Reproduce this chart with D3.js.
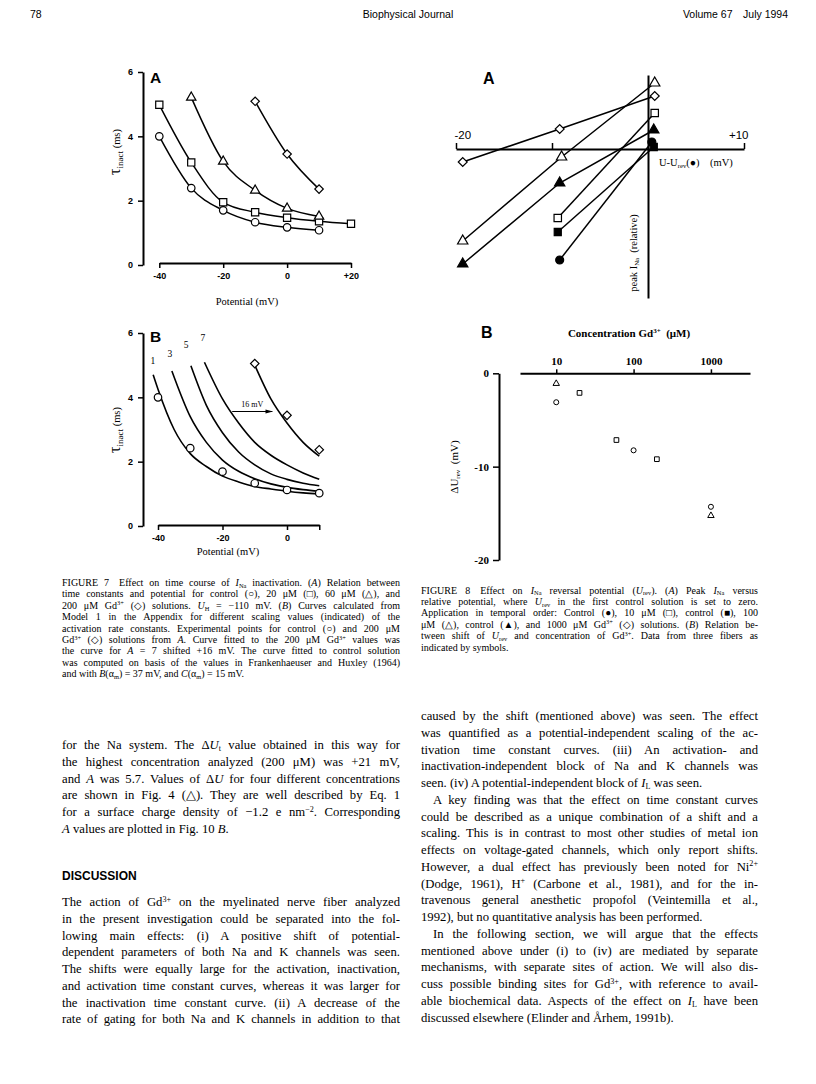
<!DOCTYPE html>
<html>
<head>
<meta charset="utf-8">
<script src="https://cdn.jsdelivr.net/npm/d3@7"></script>
<style>
  body { margin: 0; background: #fff; }
  svg { display: block; }
</style>
</head>
<body>
<script>
var serif = "'Liberation Serif', 'Times New Roman', serif";
var sans = "'Liberation Sans', Arial, sans-serif";

// ---- Figure 7A: tau inact (ms) vs potential (mV) ----
var fig7aControl = [[-40, 4.0], [-30, 2.39], [-20, 1.70], [-10, 1.33], [0, 1.17], [10, 1.08]];
var fig7aGd20 = [[-40, 4.98], [-30, 3.19], [-20, 1.95], [-10, 1.64], [0, 1.47], [10, 1.36], [20, 1.28]];
var fig7aGd60 = [[-30, 5.21], [-20, 3.22], [-10, 2.32], [0, 1.76], [10, 1.51]];
var fig7aGd200 = [[-10, 5.09], [0, 3.45], [10, 2.36]];
var fig7aXTicks = [-40, -20, 0, 20];
var fig7YTicks = [0, 2, 4, 6];

// ---- Figure 7B: model curves for scaling values ----
var fig7bScaling = ['1', '3', '5', '7'];
var fig7bCurves = [
  [[-41.5, 4.7], [-40, 4.25], [-35, 3.0], [-30, 2.25], [-25, 1.85], [-20, 1.55], [-15, 1.37], [-10, 1.23], [-5, 1.15], [0, 1.08], [5, 1.03], [10, 1.0]],
  [[-35.7, 4.82], [-30, 3.4], [-25, 2.6], [-20, 2.05], [-15, 1.7], [-10, 1.47], [-5, 1.31], [0, 1.2], [5, 1.13], [10, 1.08]],
  [[-29.8, 4.98], [-25, 3.75], [-20, 2.9], [-15, 2.3], [-10, 1.9], [-5, 1.62], [0, 1.45], [5, 1.33], [10, 1.25]],
  [[-25.6, 5.09], [-20, 3.95], [-15, 3.2], [-10, 2.6], [-5, 2.2], [0, 1.9], [5, 1.65], [10, 1.45]]
];
var fig7bLabelAt = [[-41.6, 5.14], [-36.3, 5.37], [-31.3, 5.65], [-26.1, 5.85]];
var fig7bFitGd200 = [[-10, 5.0], [-5, 3.95], [0, 3.2], [5, 2.6], [10, 2.17]];
var fig7bControl = [[-40, 4.0], [-30, 2.42], [-20, 1.69], [-10, 1.33], [0, 1.12], [10, 1.02]];
var fig7bGd200 = [[-10, 5.05], [0, 3.44], [10, 2.37]];
var fig7bShift = {from: -17, to: -4.5, level: 3.56, label: '16 mV'};
var fig7bXTicks = [-40, -20, 0, 10];

// ---- Figure 8A: peak INa (relative) vs U - Urev (mV) ----
var fig8aControl1 = [[-9.2, -1.11], [0.4, 0.07]];
var fig8aGd10 = [[-9.4, -0.69], [0.7, 0.36]];
var fig8aControl2 = [[-9.4, -0.83], [0.6, 0.02]];
var fig8aGd100 = [[-19.3, -0.92], [-9.0, -0.08], [0.7, 0.66]];
var fig8aControl3 = [[-19.3, -1.15], [-9.2, -0.34], [0.6, 0.19]];
var fig8aGd1000 = [[-19.3, -0.13], [-9.2, 0.2], [0.7, 0.53]];
var fig8aXTicks = [-20, -10, 10];

// ---- Figure 8B: shift of Urev vs Gd concentration ----
var fig8bFiberCircle = [[10, -3.1], [100, -8.25], [1000, -14.3]];
var fig8bFiberSquare = [[20, -2.1], [60, -7.15], [200, -9.2]];
var fig8bFiberTriangle = [[10, -1.1], [1000, -15.25]];
var fig8bXTicks = [10, 100, 1000];
var fig8bYTicks = [0, -10, -20];

// ---- page text ----
var caption7 = [
  'FIGURE 7\u2003Effect on time course of *I*_{Na} inactivation. (*A*) Relation between',
  'time constants and potential for control (\u25cb), 20 \u03bcM (\u25a1), 60 \u03bcM (\u25b3), and',
  '200 \u03bcM Gd^{3+} (\u25c7) solutions. *U*_{H} = \u2212110 mV. (*B*) Curves calculated from',
  'Model 1 in the Appendix for different scaling values (indicated) of the',
  'activation rate constants. Experimental points for control (\u25cb) and 200 \u03bcM',
  'Gd^{3+} (\u25c7) solutions from *A*. Curve fitted to the 200 \u03bcM Gd^{3+} values was',
  'the curve for *A* = 7 shifted +16 mV. The curve fitted to control solution',
  'was computed on basis of the values in Frankenhaeuser and Huxley (1964)',
  'and with *B*(\u03b1_{m}) = 37 mV, and *C*(\u03b1_{m}) = 15 mV.'
];
var caption8 = [
  'FIGURE 8\u2003Effect on *I*_{Na} reversal potential (*U*_{rev}). (*A*) Peak *I*_{Na} versus',
  'relative potential, where *U*_{rev} in the first control solution is set to zero.',
  'Application in temporal order: Control (\u25cf), 10 \u03bcM (\u25a1), control (\u25a0), 100',
  '\u03bcM (\u25b3), control (\u25b2), and 1000 \u03bcM Gd^{3+} (\u25c7) solutions. (*B*) Relation be-',
  'tween shift of *U*_{rev} and concentration of Gd^{3+}. Data from three fibers as',
  'indicated by symbols.'
];
var leftTop = [
  'for the Na system. The \u0394*U*_{t} value obtained in this way for',
  'the highest concentration analyzed (200 \u03bcM) was +21 mV,',
  'and *A* was 5.7. Values of \u0394*U* for four different concentrations',
  'are shown in Fig. 4 (\u25b3). They are well described by Eq. 1',
  'for a surface charge density of \u22121.2 e nm^{\u22122}. Corresponding',
  '*A* values are plotted in Fig. 10 *B*.'
];
var leftDiscussion = [
  'The action of Gd^{3+} on the myelinated nerve fiber analyzed',
  'in the present investigation could be separated into the fol-',
  'lowing main effects: (i) A positive shift of potential-',
  'dependent parameters of both Na and K channels was seen.',
  'The shifts were equally large for the activation, inactivation,',
  'and activation time constant curves, whereas it was larger for',
  'the inactivation time constant curve. (ii) A decrease of the',
  'rate of gating for both Na and K channels in addition to that'
];
var rightPara1 = [
  'caused by the shift (mentioned above) was seen. The effect',
  'was quantified as a potential-independent scaling of the ac-',
  'tivation time constant curves. (iii) An activation- and',
  'inactivation-independent block of Na and K channels was',
  'seen. (iv) A potential-independent block of *I*_{L} was seen.'
];
var rightPara2 = [
  'A key finding was that the effect on time constant curves',
  'could be described as a unique combination of a shift and a',
  'scaling. This is in contrast to most other studies of metal ion',
  'effects on voltage-gated channels, which only report shifts.',
  'However, a dual effect has previously been noted for Ni^{2+}',
  '(Dodge, 1961), H^{+} (Carbone et al., 1981), and for the in-',
  'travenous general anesthetic propofol (Veintemilla et al.,',
  '1992), but no quantitative analysis has been performed.'
];
var rightPara3 = [
  'In the following section, we will argue that the effects',
  'mentioned above under (i) to (iv) are mediated by separate',
  'mechanisms, with separate sites of action. We will also dis-',
  'cuss possible binding sites for Gd^{3+}, with reference to avail-',
  'able biochemical data. Aspects of the effect on *I*_{L} have been',
  'discussed elsewhere (Elinder and \u00c5rhem, 1991b).'
];

var svg = d3.select('body').append('svg').attr('width', 816).attr('height', 1084);

// text with *italic*, _{sub} and ^{sup}; optional justification to a width
function rich(g, str, x, y, o) {
  var size = o.size;
  var t = g.append('text').attr('x', x).attr('y', y)
    .attr('font-family', o.family || serif).attr('font-size', size)
    .attr('text-anchor', o.anchor || 'start');
  if (o.weight) t.attr('font-weight', o.weight);
  var parts = str.split(/(\*[^*]+\*|_\{[^}]+\}|\^\{[^}]+\})/).filter(function (s) { return s; });
  var shift = 0;
  parts.forEach(function (p) {
    var ts = t.append('tspan');
    var dy = 0;
    if (p[0] === '*') {
      ts.attr('font-style', 'italic').text(p.slice(1, -1));
    } else if (p[0] === '_' && p[1] === '{') {
      ts.attr('font-size', size * 0.64).text(p.slice(2, -1));
      dy = size * 0.18;
    } else if (p[0] === '^' && p[1] === '{') {
      ts.attr('font-size', size * 0.64).text(p.slice(2, -1));
      dy = -size * 0.34;
    } else {
      ts.text(p);
    }
    if (dy - shift) ts.attr('dy', dy - shift);
    shift = dy;
  });
  if (o.width) {
    var len = t.node().getComputedTextLength();
    var spaces = (t.text().match(/ /g) || []).length;
    if (spaces) t.attr('word-spacing', (o.width - len) / spaces);
  }
  return t;
}

// paragraphs: [{lines, indent, open}]
function block(paras, x, y, lh, width, size) {
  var g = svg.append('g');
  var row = 0;
  paras.forEach(function (p) {
    p.lines.forEach(function (s, k) {
      var ind = (k === 0 && p.indent) ? 12 : 0;
      var last = k === p.lines.length - 1 && !p.open;
      rich(g, s, x + ind, y + row * lh, {size: size, width: last ? null : width - ind});
      row++;
    });
  });
}

function symbolPath(type, size) {
  var t = {circle: d3.symbolCircle, square: d3.symbolSquare, triangle: d3.symbolTriangle, diamond: d3.symbolSquare}[type];
  return d3.symbol().type(t).size(size)();
}

function points(g, data, x, y, type, size, filled, sw) {
  g.selectAll(null).data(data).join('path')
    .attr('d', symbolPath(type, size))
    .attr('transform', function (d) {
      return 'translate(' + x(d[0]) + ',' + y(d[1]) + ')' + (type === 'diamond' ? ' rotate(45)' : '');
    })
    .attr('fill', filled ? '#000' : '#fff')
    .attr('stroke', '#000')
    .attr('stroke-width', sw || 1.2);
}

function styleAxis(g, fam, size, weight) {
  g.select('.domain').attr('stroke-width', 2);
  g.selectAll('.tick line').attr('stroke-width', 1.5);
  g.selectAll('.tick text').attr('font-family', fam).attr('font-size', size)
    .attr('font-weight', weight || 'normal').attr('fill', '#000');
}

function tauLabel(g, x, y) {
  var t = g.append('text').attr('transform', 'translate(' + x + ',' + y + ') rotate(-90)')
    .attr('text-anchor', 'middle').attr('font-family', serif);
  t.append('tspan').attr('font-size', 16).text('\u03c4');
  t.append('tspan').attr('font-size', 9).attr('dy', 3).text('inact');
  t.append('tspan').attr('font-size', 10.5).attr('dy', -3).text(' (ms)');
}

// ---- page header ----
svg.append('text').attr('x', 30).attr('y', 18).attr('font-family', sans).attr('font-size', 10.5).text('78');
svg.append('text').attr('x', 408).attr('y', 18).attr('text-anchor', 'middle').attr('font-family', sans).attr('font-size', 10.5).text('Biophysical Journal');
svg.append('text').attr('x', 788).attr('y', 18).attr('text-anchor', 'end').attr('font-family', sans).attr('font-size', 10.5).text('Volume 67\u2003July 1994');

var line = function (x, y) {
  return d3.line().x(function (d) { return x(d[0]); }).y(function (d) { return y(d[1]); }).curve(d3.curveMonotoneX);
};

// ---- Figure 7A ----
var g7a = svg.append('g');
var x7a = d3.scaleLinear().domain([-40, 20]).range([159.3, 351]);
var y7a = d3.scaleLinear().domain([0, 6]).range([265, 72]);
g7a.append('g').attr('transform', 'translate(143,0)')
  .call(d3.axisLeft(y7a).tickValues(fig7YTicks).tickSize(5).tickSizeOuter(0).tickPadding(5).tickFormat(String))
  .call(styleAxis, sans, 9, 'bold');
g7a.append('g').attr('transform', 'translate(0,263)')
  .call(d3.axisBottom(x7a).tickValues(fig7aXTicks).tickSize(5).tickSizeOuter(0).tickPadding(5)
    .tickFormat(function (d) { return d > 0 ? '+' + d : String(d); }))
  .call(styleAxis, sans, 9, 'bold');
[fig7aControl, fig7aGd20, fig7aGd60, fig7aGd200].forEach(function (s) {
  g7a.append('path').datum(s).attr('d', line(x7a, y7a)).attr('fill', 'none').attr('stroke', '#000').attr('stroke-width', 1.5);
});
points(g7a, fig7aControl, x7a, y7a, 'circle', 44, false);
points(g7a, fig7aGd20, x7a, y7a, 'square', 52, false);
points(g7a, fig7aGd60, x7a, y7a, 'triangle', 38, false);
points(g7a, fig7aGd200, x7a, y7a, 'diamond', 36, false);
g7a.append('text').attr('x', 150).attr('y', 83).attr('font-family', sans).attr('font-weight', 'bold').attr('font-size', 15.5).text('A');
tauLabel(g7a, 120, 152);
g7a.append('text').attr('x', 247).attr('y', 305).attr('text-anchor', 'middle').attr('font-family', serif).attr('font-size', 10.5).text('Potential (mV)');

// ---- Figure 7B ----
var g7b = svg.append('g');
var x7b = d3.scaleLinear().domain([-40, 10]).range([158, 319.25]);
var y7b = d3.scaleLinear().domain([0, 6]).range([526, 333]);
g7b.append('g').attr('transform', 'translate(143,0)')
  .call(d3.axisLeft(y7b).tickValues(fig7YTicks).tickSize(5).tickSizeOuter(0).tickPadding(5).tickFormat(String))
  .call(styleAxis, sans, 9, 'bold');
g7b.append('g').attr('transform', 'translate(0,525)')
  .call(d3.axisBottom(x7b).tickValues(fig7bXTicks).tickSize(5).tickSizeOuter(0).tickPadding(5)
    .tickFormat(function (d) { return d === 10 ? '' : String(d); }))
  .call(styleAxis, sans, 9, 'bold');
fig7bCurves.concat([fig7bFitGd200]).forEach(function (s) {
  g7b.append('path').datum(s).attr('d', line(x7b, y7b)).attr('fill', 'none').attr('stroke', '#000').attr('stroke-width', 1.6);
});
points(g7b, fig7bControl, x7b, y7b, 'circle', 44, false);
points(g7b, fig7bGd200, x7b, y7b, 'diamond', 36, false);
g7b.selectAll('.scal').data(fig7bScaling).join('text')
  .attr('x', function (d, i) { return x7b(fig7bLabelAt[i][0]); })
  .attr('y', function (d, i) { return y7b(fig7bLabelAt[i][1]) + 3.5; })
  .attr('text-anchor', 'middle').attr('font-family', serif).attr('font-size', 9.5).text(function (d) { return d; });
svg.append('defs').append('marker').attr('id', 'arr').attr('viewBox', '0 0 10 6')
  .attr('refX', 10).attr('refY', 3).attr('markerWidth', 7).attr('markerHeight', 4.2)
  .attr('markerUnits', 'userSpaceOnUse').attr('orient', 'auto')
  .append('path').attr('d', 'M0,0L10,3L0,6Z');
g7b.append('line')
  .attr('x1', x7b(fig7bShift.from)).attr('x2', x7b(fig7bShift.to))
  .attr('y1', y7b(fig7bShift.level)).attr('y2', y7b(fig7bShift.level))
  .attr('stroke', '#000').attr('stroke-width', 1.2).attr('marker-end', 'url(#arr)');
g7b.append('text').attr('x', (x7b(fig7bShift.from) + x7b(fig7bShift.to)) / 2).attr('y', y7b(fig7bShift.level) - 4)
  .attr('text-anchor', 'middle').attr('font-family', serif).attr('font-size', 8).text(fig7bShift.label);
g7b.append('text').attr('x', 150).attr('y', 342).attr('font-family', sans).attr('font-weight', 'bold').attr('font-size', 15.5).text('B');
tauLabel(g7b, 120, 430);
g7b.append('text').attr('x', 228).attr('y', 555).attr('text-anchor', 'middle').attr('font-family', serif).attr('font-size', 10.5).text('Potential (mV)');

// ---- Figure 8A ----
var g8a = svg.append('g');
var x8a = d3.scaleLinear().domain([-20, 10]).range([456, 744]);
var y8a = d3.scaleLinear().domain([-1.49, 0.74]).range([298, 75]);
var ax8 = g8a.append('g').attr('transform', 'translate(0,' + y8a(0) + ')')
  .call(d3.axisTop(x8a).tickValues(fig8aXTicks).tickSize(6).tickSizeOuter(0).tickPadding(4)
    .tickFormat(function (d) { return d === -10 ? '' : d > 0 ? '+' + d : String(d); }))
  .call(styleAxis, sans, 11.5);
ax8.selectAll('.tick text').attr('text-anchor', function (d) { return d < 0 ? 'start' : 'end'; })
  .attr('dx', function (d) { return d < 0 ? -2 : 4; });
g8a.append('g').attr('transform', 'translate(' + x8a(0) + ',0)')
  .call(d3.axisLeft(y8a).tickValues([]).tickSizeOuter(0))
  .call(styleAxis, sans, 10);
var l8 = d3.line().x(function (d) { return x8a(d[0]); }).y(function (d) { return y8a(d[1]); });
[fig8aControl1, fig8aGd10, fig8aControl2, fig8aGd100, fig8aControl3, fig8aGd1000].forEach(function (s) {
  g8a.append('path').datum(s).attr('d', l8).attr('fill', 'none').attr('stroke', '#000').attr('stroke-width', 1.5);
});
points(g8a, fig8aControl1, x8a, y8a, 'circle', 50, true);
points(g8a, fig8aControl2, x8a, y8a, 'square', 50, true);
points(g8a, fig8aControl3, x8a, y8a, 'triangle', 46, true);
points(g8a, fig8aGd10, x8a, y8a, 'square', 55, false);
points(g8a, fig8aGd100, x8a, y8a, 'triangle', 46, false);
points(g8a, fig8aGd1000, x8a, y8a, 'diamond', 40, false);
g8a.append('text').attr('x', 483).attr('y', 84).attr('font-family', sans).attr('font-weight', 'bold').attr('font-size', 16).text('A');
rich(g8a, 'U-U_{rev}(\u25cf)\u2003(mV)', 659, 166, {size: 10.5});
var pk = g8a.append('g').attr('transform', 'translate(637,253) rotate(-90)');
rich(pk, 'peak I_{Na}\u2002(relative)', 0, 0, {size: 10.5, anchor: 'middle'});

// ---- Figure 8B ----
var g8b = svg.append('g');
var x8b = d3.scaleLog().domain([3.4, 3200]).range([520, 750]);
var y8b = d3.scaleLinear().domain([-20, 0]).range([560, 373.3]);
g8b.append('g').attr('transform', 'translate(0,' + y8b(0) + ')')
  .call(d3.axisTop(x8b).tickValues(fig8bXTicks).tickSize(4).tickSizeOuter(0).tickPadding(4)
    .tickFormat(function (d) { return String(d); }))
  .call(styleAxis, serif, 11, 'bold');
g8b.append('g').attr('transform', 'translate(499,0)')
  .call(d3.axisLeft(y8b).tickValues(fig8bYTicks).tickSize(6).tickSizeOuter(0).tickPadding(4)
    .tickFormat(function (d) { return String(d); }))
  .call(styleAxis, serif, 11, 'bold');
points(g8b, fig8bFiberCircle, x8b, y8b, 'circle', 20, false, 1);
points(g8b, fig8bFiberSquare, x8b, y8b, 'square', 22, false, 1);
points(g8b, fig8bFiberTriangle, x8b, y8b, 'triangle', 18, false, 1);
g8b.append('text').attr('x', 481).attr('y', 338).attr('font-family', sans).attr('font-weight', 'bold').attr('font-size', 16).text('B');
rich(g8b, 'Concentration Gd^{3+}\u2002(\u03bcM)', 629, 337, {size: 11, anchor: 'middle', weight: 'bold'});
var du = g8b.append('g').attr('transform', 'translate(458,467) rotate(-90)');
rich(du, '\u0394U_{rev}\u2002(mV)', 0, 0, {size: 11, anchor: 'middle'});

// ---- captions and body text ----
block([{lines: caption7}], 62, 586, 11.4, 338, 10);
block([{lines: caption8}], 421, 593.5, 11.4, 337, 10);
block([{lines: leftTop}], 62, 749, 16.75, 338, 12.7);
svg.append('text').attr('x', 62).attr('y', 880).attr('font-family', sans).attr('font-weight', 'bold').attr('font-size', 12).text('DISCUSSION');
block([{lines: leftDiscussion, open: true}], 62, 906, 16.75, 338, 12.7);
block([{lines: rightPara1}, {lines: rightPara2, indent: true}, {lines: rightPara3, indent: true}], 421, 720, 16.75, 337, 12.7);
</script>
</body>
</html>
